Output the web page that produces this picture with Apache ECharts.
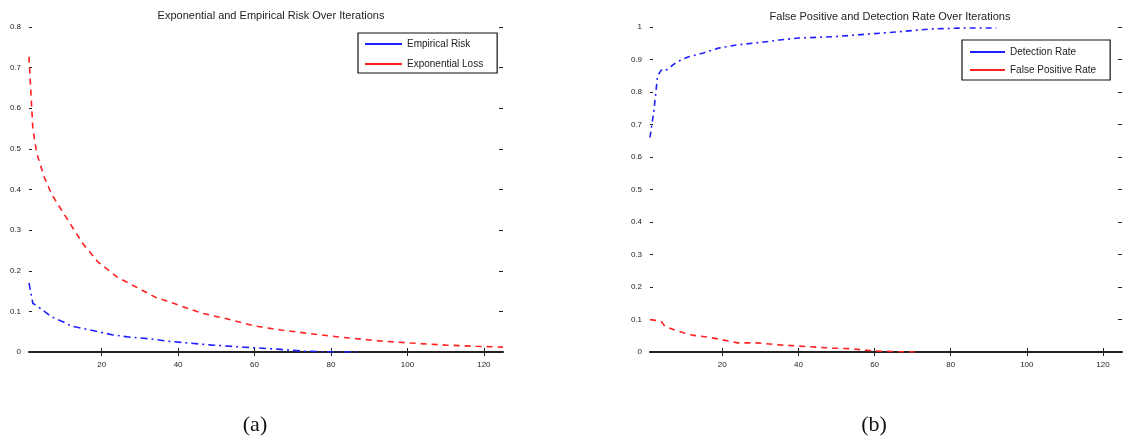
<!DOCTYPE html>
<html><head><meta charset="utf-8">
<script src="https://cdn.jsdelivr.net/npm/echarts@6/dist/echarts.min.js"></script>
<style>html,body{margin:0;padding:0;background:#fff}#c{width:1126px;height:445px}</style>
</head><body><div id="c"></div>
<script>
// ---- data ----
const xTicks = [20, 40, 60, 80, 100, 120];
const expLossX = [1,2,3,4,5,7,10,15,19,24,29,34,40,46,54,60,67,73,82,93,101,110,118,125];
const expLossY = [0.727,0.55,0.49,0.46,0.43,0.387,0.342,0.268,0.222,0.185,0.16,0.135,0.116,0.096,0.079,0.064,0.054,0.047,0.037,0.027,0.022,0.017,0.014,0.012];
const empRiskX = [1,2,4,7,10,12,17,23,27,33,37,43,49,57,66,73,80,87];
const empRiskY = [0.17,0.12,0.107,0.086,0.074,0.064,0.054,0.042,0.037,0.032,0.027,0.022,0.017,0.012,0.007,0.002,0,0];
const detX = [1,2,3,4,5,8,11,15,19,24,31,35,40,49,58,66,75,84,92];
const detY = [0.66,0.74,0.85,0.868,0.865,0.892,0.908,0.92,0.935,0.945,0.954,0.96,0.966,0.97,0.978,0.985,0.994,0.997,0.997];
const fpX = [1,3,4,5,9,12,16,19,24,29,35,43,49,54,60,66,72];
const fpY = [0.099,0.097,0.093,0.078,0.062,0.052,0.046,0.04,0.028,0.028,0.022,0.016,0.012,0.01,0.003,0.001,0];
const titleA = 'Exponential and Empirical Risk Over Iterations';
const titleB = 'False Positive and Detection Rate Over Iterations';

const pairs = (xs, ys) => xs.map((x, i) => [x, ys[i]]);
const font = 'Liberation Sans';
const lbl = {fontSize: 8, color: '#222', fontFamily: font};

function xAxes(g) {
  return [
    {type:'value', gridIndex:g, min:1, max:125, position:'bottom',
     axisLine:{show:true, lineStyle:{color:'#555', width:2}},
     axisTick:{show:true, inside:true, length:4, customValues:xTicks, lineStyle:{color:'#222'}},
     axisLabel:Object.assign({customValues:xTicks, margin:9}, lbl),
     splitLine:{show:false}},
    {type:'value', gridIndex:g, min:1, max:125, position:'top',
     axisLine:{show:true, lineStyle:{color:'#111', width:1.5}},
     axisTick:{show:true, inside:true, length:4, customValues:xTicks, lineStyle:{color:'#222'}},
     axisLabel:{show:false, customValues:xTicks}, splitLine:{show:false}}
  ];
}
function yAxes(g, max) {
  return [
    {type:'value', gridIndex:g, min:0, max:max, interval:0.1, position:'left',
     axisLine:{show:false}, axisTick:{show:true, inside:true, length:3, lineStyle:{color:'#222'}},
     axisLabel:Object.assign({margin:8, formatter: v => +v.toFixed(1)}, lbl), splitLine:{show:false}},
    {type:'value', gridIndex:g, min:0, max:max, interval:0.1, position:'right',
     axisLine:{show:false}, axisTick:{show:true, inside:true, length:4, lineStyle:{color:'#222'}},
     axisLabel:{show:false}, splitLine:{show:false}}
  ];
}
function line(name, xi, yi, data, color, dash) {
  return {type:'line', name, xAxisIndex:xi, yAxisIndex:yi, data, showSymbol:false, symbol:'none',
    smooth:false, lineStyle:{color, width:1.6, type:dash}, itemStyle:{color}, animation:false};
}
const legendText = {fontSize:10, color:'#222', fontFamily:font};

const chart = echarts.init(document.getElementById('c'), null, {renderer:'canvas'});
chart.setOption({
  backgroundColor:'#fff',
  animation:false,
  title:[
    {text:titleA, left:266, top:5, textAlign:'center', textStyle:{fontSize:11, fontWeight:'normal', color:'#222', fontFamily:font}},
    {text:titleB, left:885, top:6, textAlign:'center', textStyle:{fontSize:11, fontWeight:'normal', color:'#222', fontFamily:font}},
    {text:'(a)', left:250, top:409, textAlign:'center', textStyle:{fontSize:22, fontWeight:'normal', color:'#111', fontFamily:'Liberation Serif'}},
    {text:'(b)', left:869, top:409, textAlign:'center', textStyle:{fontSize:22, fontWeight:'normal', color:'#111', fontFamily:'Liberation Serif'}}
  ],
  grid:[
    {left:29, right:623, top:27, bottom:93},
    {left:650, right:4, top:27, bottom:93}
  ],
  xAxis:[].concat(xAxes(0), xAxes(1)),
  yAxis:[].concat(yAxes(0, 0.8), yAxes(1, 1)),
  legend:[
    {data:['Empirical Risk','Exponential Loss'], orient:'vertical', left:358, top:33,
     icon:'rect', itemWidth:37, itemHeight:2, itemGap:10, padding:[6,14,4,7],
     backgroundColor:'#fff', borderColor:'#111', borderWidth:1.2, textStyle:legendText},
    {data:['Detection Rate','False Positive Rate'], orient:'vertical', left:962, top:40,
     icon:'rect', itemWidth:35, itemHeight:2, itemGap:8, padding:[7,14,5,8],
     backgroundColor:'#fff', borderColor:'#111', borderWidth:1.2, textStyle:legendText}
  ],
  series:[
    line('Empirical Risk', 0, 0, pairs(empRiskX, empRiskY), '#2020ff', [7,4,2,4]),
    line('Exponential Loss', 0, 0, pairs(expLossX, expLossY), '#ff2020', [6,5]),
    line('Detection Rate', 2, 2, pairs(detX, detY), '#2020ff', [6,4,2,4]),
    line('False Positive Rate', 2, 2, pairs(fpX, fpY), '#ff2020', [6,5])
  ]
});
</script></body></html>
